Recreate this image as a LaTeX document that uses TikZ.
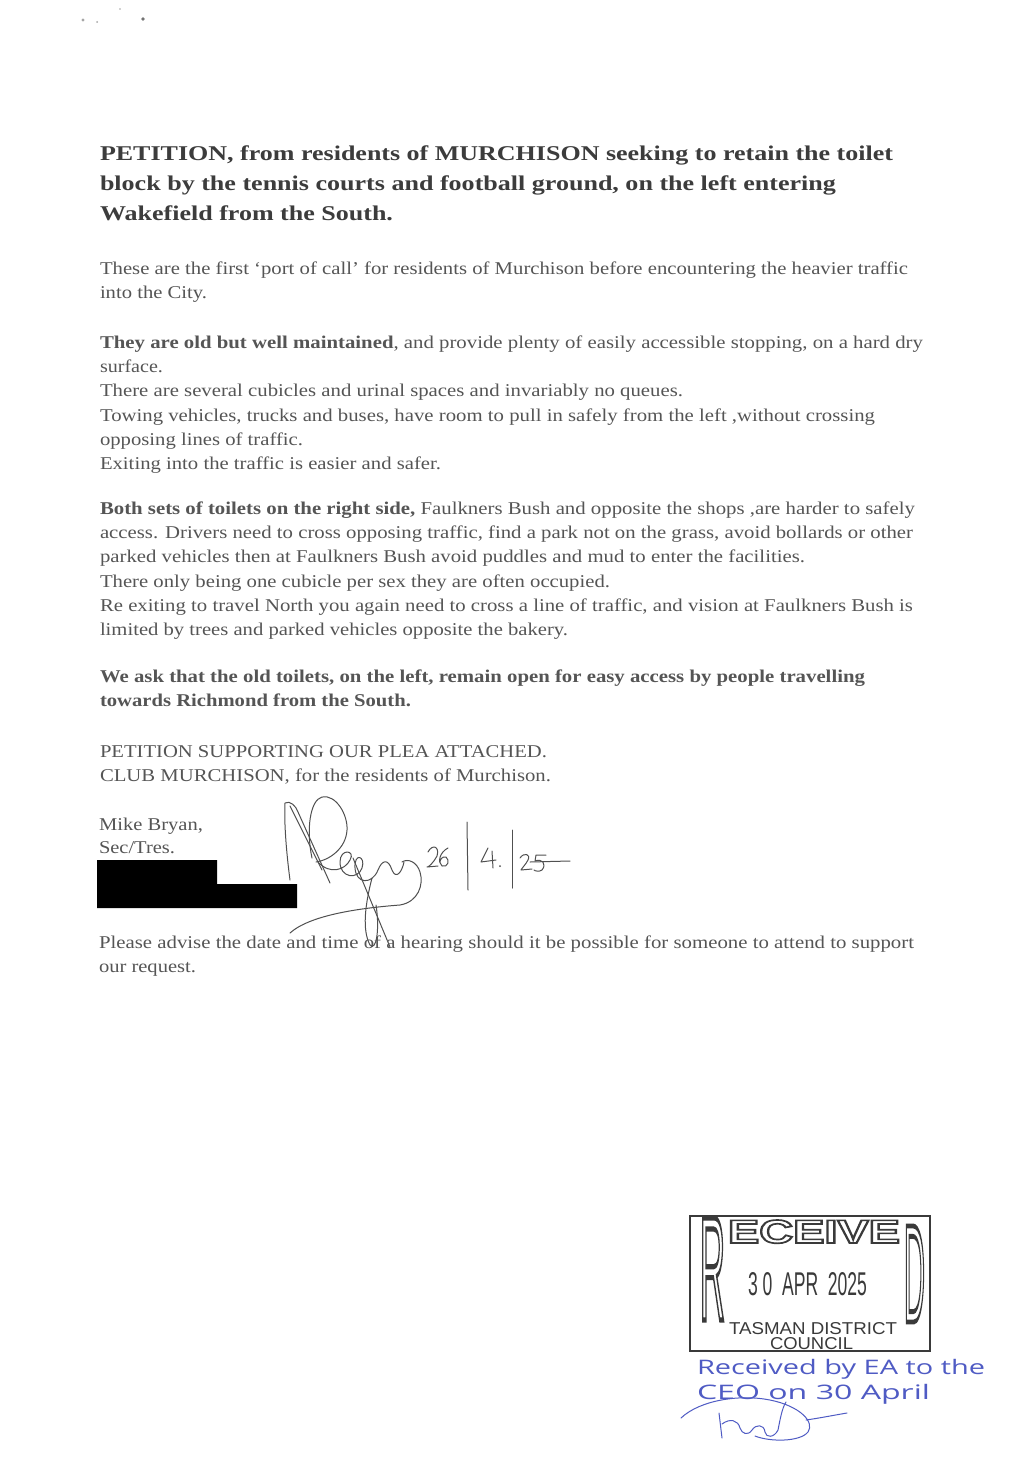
\documentclass[tikz,border=0pt]{standalone}
\usepackage{fontspec}
\usepackage{graphicx}
\setmainfont{Liberation Serif}
\newfontfamily\stampfont{Liberation Sans}
\newfontfamily\handfont{Open Sans}
\definecolor{bodyc}{HTML}{555555}
\definecolor{titlec}{HTML}{3C3C3C}
\definecolor{inkc}{HTML}{505050}
\definecolor{stampc}{HTML}{3A3A3A}
\definecolor{bluec}{HTML}{4F5BC4}
\newlength\fitw
\newcommand\fitto[2]{\settowidth\fitw{#2}\pgfmathsetmacro\fitr{#1/\fitw}\scalebox{\fitr}[1]{#2}}
\newcommand\outlined[2]{\special{pdf:literal direct 1 Tr #1 w}#2\special{pdf:literal direct 0 Tr}}
\tikzset{
  body/.style={anchor=base west, inner sep=0pt, outer sep=0pt, font=\fontsize{18}{20}\selectfont, text=bodyc},
  titleline/.style={anchor=base west, inner sep=0pt, outer sep=0pt, font=\fontsize{21}{24}\selectfont\bfseries, text=titlec},
  ink/.style={draw=inkc, line width=1pt, line cap=round, line join=round},
  blueink/.style={draw=bluec, line width=1pt, line cap=round, line join=round},
  stamptext/.style={inner sep=0pt, outer sep=0pt, text=stampc, font=\stampfont},
  hand/.style={anchor=base west, inner sep=0pt, outer sep=0pt, text=bluec, font=\handfont\fontsize{20}{22}\selectfont},
  speck/.style={fill=gray!70, draw=none}
}
\begin{document}
\begin{tikzpicture}[x=1pt,y=-1pt]
\useasboundingbox (0,0) rectangle (1035,1464);
\fill[white] (0,0) rectangle (1035,1464);
% specks
\fill[speck] (83,20) circle (1.6);
\fill[speck] (97,22) circle (1);
\fill[speck] (120,9) circle (0.8);
\fill[gray!90!black] (143,19) circle (1.8);
% title
\node[titleline] (t1) at (100,160) {\fitto{793}{PETITION, from residents of MURCHISON seeking to retain the toilet}};
\node[titleline] (t2) at (100,190) {\fitto{736}{block by the tennis courts and football ground, on the left entering}};
\node[titleline] (t3) at (100,220) {\fitto{293}{Wakefield from the South.}};
% paragraph 1
\node[body] (l1) at (100,274) {\fitto{808}{These are the first ‘port of call’ for residents of Murchison before encountering the heavier traffic}};
\node[body] (l2) at (100,298) {\fitto{107}{into the City.}};
% paragraph 2
\node[body] (l3) at (100,348) {\fitto{823}{\textbf{They are old but well maintained}, and provide plenty of easily accessible stopping, on a hard dry}};
\node[body] (l4) at (100,372) {\fitto{63}{surface.}};
\node[body] (l5) at (100,396) {\fitto{583}{There are several cubicles and urinal spaces and invariably no queues.}};
\node[body] (l6) at (100,421) {\fitto{775}{Towing vehicles, trucks and buses, have room to pull in safely from the left ,without crossing}};
\node[body] (l7) at (100,445) {\fitto{203}{opposing lines of traffic.}};
\node[body] (l8) at (100,469) {\fitto{341}{Exiting into the traffic is easier and safer.}};
% paragraph 3
\node[body] (l9) at (100,514) {\fitto{815}{\textbf{Both sets of toilets on the right side,} Faulkners Bush and opposite the shops ,are harder to safely}};
\node[body] (l10) at (100,538) {\fitto{813}{access. Drivers need to cross opposing traffic, find a park not on the grass, avoid bollards or other}};
\node[body] (l11) at (100,562) {\fitto{705}{parked vehicles then at Faulkners Bush avoid puddles and mud to enter the facilities.}};
\node[body] (l12) at (100,587) {\fitto{510}{There only being one cubicle per sex they are often occupied.}};
\node[body] (l13) at (100,611) {\fitto{813}{Re exiting to travel North you again need to cross a line of traffic, and vision at Faulkners Bush is}};
\node[body] (l14) at (100,635) {\fitto{468}{limited by trees and parked vehicles opposite the bakery.}};
% paragraph 4
\node[body] (l15) at (100,682) {\fitto{765}{\textbf{We ask that the old toilets, on the left, remain open for easy access by people travelling}}};
\node[body] (l16) at (100,706) {\fitto{311}{\textbf{towards Richmond from the South.}}};
% paragraph 5
\node[body] (l17) at (100,757) {\fitto{447}{PETITION SUPPORTING OUR PLEA ATTACHED.}};
\node[body] (l18) at (100,781) {\fitto{451}{CLUB MURCHISON, for the residents of Murchison.}};
% signature block
\node[body] (l19) at (99,830) {\fitto{104}{Mike Bryan,}};
\node[body] (l20) at (99,853) {\fitto{76}{Sec/Tres.}};
\fill[black] (97,860) -- (217,860) -- (217,884) -- (297,884) -- (297,908) -- (97,908) -- cycle;
\node[body] (l21) at (99,948) {\fitto{815}{Please advise the date and time of a hearing should it be possible for someone to attend to support}};
\node[body] (l22) at (99,972) {\fitto{97}{our request.}};
% handwritten signature
\draw[ink] (290,880) .. controls (286,850) and (284,820) .. (285,803) .. controls (290,800) and (296,806) .. (298,812) -- (330,883);
\draw[ink] (290,806) -- (322,870);
\draw[ink] (312,858) .. controls (306,830) and (310,800) .. (322,797) .. controls (336,794) and (348,815) .. (347,830) .. controls (346,848) and (330,860) .. (316,862);
\draw[ink] (318,862) .. controls (330,875) and (345,870) .. (350,860) .. controls (356,850) and (340,848) .. (340,862) .. controls (340,878) and (358,880) .. (362,868) .. controls (366,856) and (354,852) .. (355,868) .. controls (356,884) and (372,885) .. (378,870) .. controls (382,860) and (388,858) .. (392,870) .. controls (396,880) and (402,872) .. (404,862);
\draw[ink] (353,858) -- (390,947);
\draw[ink] (372,878) .. controls (365,905) and (362,930) .. (370,945) .. controls (376,952) and (380,930) .. (376,905);
\draw[ink] (290,933) .. controls (310,915) and (360,908) .. (400,905) .. controls (418,902) and (424,885) .. (420,872) .. controls (417,862) and (408,858) .. (402,862);
% date
\draw[ink] (428,852) .. controls (432,844) and (440,846) .. (437,856) .. controls (434,862) and (428,868) .. (427,867) -- (438,866);
\draw[ink] (448,848) .. controls (440,852) and (437,862) .. (442,866) .. controls (448,868) and (450,860) .. (446,857) .. controls (442,856) and (440,860) .. (440,862);
\draw[ink] (467,822) -- (468,890);
\draw[ink] (488,848) -- (481,862) -- (496,860);
\draw[ink] (492,851) -- (493,868);
\fill[inkc] (500,866) circle (1);
\draw[ink] (512,830) -- (512,888);
\draw[ink] (520,858) .. controls (524,852) and (531,854) .. (528,860) .. controls (526,864) and (522,868) .. (521,870) -- (532,869);
\draw[ink] (546,855) -- (536,855) -- (535,861) .. controls (542,858) and (547,864) .. (542,870) .. controls (539,872) and (535,871) .. (534,870);
\draw[ink] (530,862) -- (570,861);
% stamp
\draw[stampc, line width=1.2pt] (690,1216) rectangle (930,1351);
\node[stamptext, anchor=base west] (sR) at (700,1320) {\resizebox{25pt}{102pt}{\outlined{0.35}{R}}};
\node[stamptext, anchor=base west] (sE) at (728,1243) {\resizebox{172pt}{23pt}{\outlined{0.5}{\bfseries ECEIVE}}};
\node[stamptext, anchor=base west] (sD) at (904,1322) {\resizebox{21pt}{96pt}{\outlined{0.35}{D}}};
\node[stamptext, anchor=base west] (sdate) at (748,1295) {\resizebox{119pt}{23pt}{3 0 \ APR \ 2025}};
\node[stamptext, anchor=base west] (stas) at (729,1334) {\resizebox{168pt}{12pt}{TASMAN DISTRICT}};
\node[stamptext, anchor=base west] (scou) at (770,1349) {\resizebox{83pt}{12pt}{COUNCIL}};
% blue note
\node[hand] (h1) at (697,1374) {\fitto{288}{Received by EA to the}};
\node[hand] (h2) at (697,1399) {\fitto{233}{CEO on 30 April}};
\draw[blueink] (681,1418) .. controls (700,1400) and (740,1394) .. (770,1400) .. controls (800,1406) and (815,1422) .. (808,1432) .. controls (800,1442) and (770,1442) .. (755,1436);
\draw[blueink] (806,1420) .. controls (820,1418) and (835,1415) .. (847,1413);
\draw[blueink] (719,1413) -- (722,1438);
\draw[blueink] (722,1424) .. controls (730,1418) and (738,1420) .. (740,1428) .. controls (742,1434) and (748,1436) .. (752,1430) .. controls (756,1424) and (764,1424) .. (765,1432) .. controls (766,1438) and (774,1438) .. (778,1430) .. controls (780,1420) and (782,1408) .. (786,1402);
\end{tikzpicture}
\end{document}
